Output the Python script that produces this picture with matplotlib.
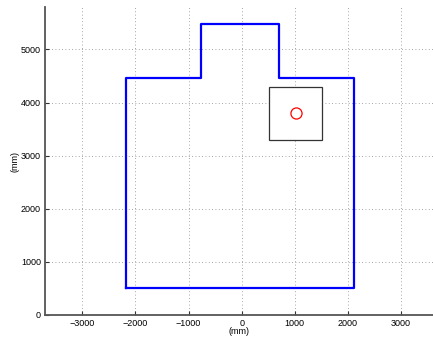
import matplotlib
matplotlib.use("Agg")
import matplotlib.pyplot as plt
from matplotlib.patches import Rectangle

# room outline (mm), traced clockwise from bottom-left corner
room_x = [-2170, -2170, -770, -770, 710, 710, 2110, 2110, -2170]
room_y = [500, 4460, 4460, 5480, 5480, 4460, 4460, 500, 500]

# table footprint and source position (mm)
table_xy = (520, 3300)
table_w = 1000
table_h = 1000
source_x = [1020]
source_y = [3800]

xticks = [-3000, -2000, -1000, 0, 1000, 2000, 3000]
yticks = [0, 1000, 2000, 3000, 4000, 5000]

plt.rcParams["font.family"] = ["Liberation Sans", "DejaVu Sans"]

fig = plt.figure(figsize=(4.33, 3.41), dpi=100)
ax = fig.add_axes([45 / 433, 26 / 341, 388 / 433, 308 / 341])

ax.plot(room_x, room_y, color="#0000ff", linewidth=1.6, zorder=3)
ax.add_patch(Rectangle(table_xy, table_w, table_h, facecolor="white",
                       edgecolor="#333333", linewidth=0.9, zorder=2))
ax.plot(source_x, source_y, "o", markerfacecolor="none", markeredgecolor="#ff0000",
        markersize=8, markeredgewidth=0.9, zorder=4)

ax.set_xlim(-3700, 3600)
ax.set_ylim(0, 5800)
ax.set_xticks(xticks)
ax.set_yticks(yticks)
ax.set_xticklabels(["\u22123000", "\u22122000", "\u22121000", "0", "1000", "2000", "3000"])
ax.tick_params(direction="in", length=3, labelsize=6.5, color="#333333", pad=3)
ax.grid(True, linestyle=(0, (1, 3)), color="#888888", linewidth=0.6)
ax.set_axisbelow(True)

for side in ["top", "right"]:
    ax.spines[side].set_visible(False)
for side in ["left", "bottom"]:
    ax.spines[side].set_color("#555555")
    ax.spines[side].set_linewidth(1.3)

ax.set_xlabel("(mm)", fontsize=6.5, labelpad=-1)
ax.set_ylabel("(mm)", fontsize=6.5, labelpad=1)

fig.savefig("out.png", dpi=100)
